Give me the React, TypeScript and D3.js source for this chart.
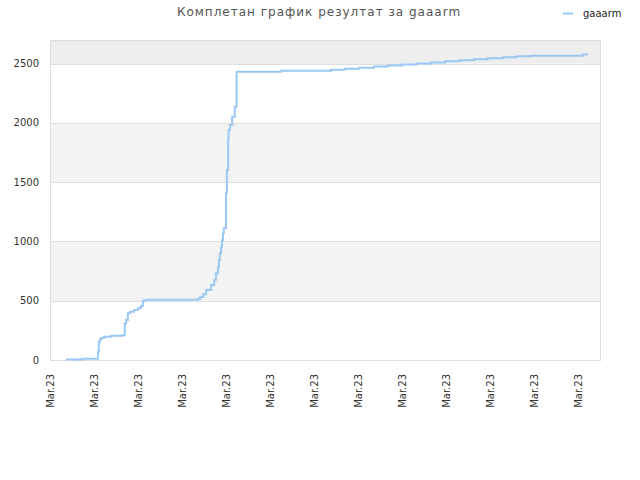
import * as d3 from "d3";
import { useEffect, useRef } from "react";

// x position in tick units (one tick label per unit), cumulative score
const steps = [
  0.36, 0.73, 1.09, 1.11, 1.14, 1.16, 1.23, 1.39, 1.66, 1.7, 1.73, 1.77, 1.82,
  1.91, 2.0, 2.07, 2.11, 2.18, 3.36, 3.41, 3.48, 3.55, 3.66, 3.73, 3.77, 3.82,
  3.84, 3.86, 3.89, 3.91, 3.93, 3.95, 4.0, 4.02, 4.05, 4.06, 4.09, 4.14, 4.2,
  4.24, 4.27, 5.25, 6.39, 6.7, 7.02, 7.36, 7.68, 8.0, 8.34, 8.66, 8.98, 9.32,
  9.64, 9.95, 10.3, 10.61, 10.93, 12.11, 12.23,
];
const scores = [
  5, 11, 70, 154, 177, 186, 197, 205, 211, 310, 337, 394, 408, 422, 436, 456,
  500, 509, 515, 529, 554, 591, 633, 675, 731, 787, 844, 900, 956, 1012, 1069,
  1111, 1409, 1603, 1873, 1941, 1983, 2053, 2137, 2433, 2433, 2440, 2448, 2457,
  2466, 2476, 2485, 2494, 2502, 2511, 2520, 2529, 2537, 2546, 2554, 2562, 2568,
  2577, 2577,
];
const xTicks = [0, 1, 2, 3, 4, 5, 6, 7, 8, 9, 10, 11, 12];
const yTicks = [0, 500, 1000, 1500, 2000, 2500];
const tickLabel = "Mar.23";
const seriesName = "gaaarm";
const title = "Комплетан график резултат за gaaarm";

const App = () => {
  const svgRef = useRef<SVGSVGElement>(null);

  useEffect(() => {
    const svg = d3.select(svgRef.current);
    svg.selectAll("*").remove();

    const left = 50;
    const right = 600;
    const top = 40;
    const bottom = 360;

    const x = d3.scaleLinear().domain([0, 12.5]).range([left, right]);
    const y = d3.scaleLinear().domain([0, 2700]).range([bottom, top]);

    // alternating bands
    const bands = [0, 500, 1000, 1500, 2000, 2500];
    bands.forEach((b, i) => {
      const hi = Math.min(b + 500, 2700);
      svg
        .append("rect")
        .attr("x", left)
        .attr("y", y(hi))
        .attr("width", right - left)
        .attr("height", y(b) - y(hi))
        .attr("fill", b === 2500 ? "#eeeeee" : i % 2 ? "#f3f3f3" : "#ffffff");
    });

    yTicks.forEach((t) => {
      svg
        .append("line")
        .attr("x1", left)
        .attr("x2", right)
        .attr("y1", Math.round(y(t)) + 0.5)
        .attr("y2", Math.round(y(t)) + 0.5)
        .attr("stroke", "#dddddd");
      svg
        .append("text")
        .attr("x", 39)
        .attr("y", y(t))
        .attr("dy", "0.35em")
        .attr("text-anchor", "end")
        .attr("font-family", "DejaVu Sans")
        .attr("font-size", 10)
        .attr("fill", "#333")
        .text(t);
    });

    svg
      .append("rect")
      .attr("x", left + 0.5)
      .attr("y", top + 0.5)
      .attr("width", right - left)
      .attr("height", bottom - top)
      .attr("fill", "none")
      .attr("stroke", "#dddddd");

    xTicks.forEach((t) => {
      svg
        .append("text")
        .attr("transform", `translate(${x(t) + 4},374) rotate(-90)`)
        .attr("text-anchor", "end")
        .attr("font-family", "DejaVu Sans")
        .attr("font-size", 10)
        .attr("fill", "#333")
        .text(tickLabel);
    });

    const pts = steps.map((s, i) => [s, scores[i]] as [number, number]);
    svg
      .append("path")
      .datum(pts)
      .attr("fill", "none")
      .attr("stroke", "#99c8f5")
      .attr("stroke-width", 2)
      .attr(
        "d",
        d3
          .line<[number, number]>()
          .x((d) => x(d[0]))
          .y((d) => y(d[1]))
          .curve(d3.curveStepAfter)
      );

    svg
      .append("text")
      .attr("x", 319)
      .attr("y", 16)
      .attr("text-anchor", "middle")
      .attr("font-family", "DejaVu Sans")
      .attr("font-size", 12)
      .attr("letter-spacing", 1.0)
      .attr("fill", "#555")
      .text(title);

    svg
      .append("line")
      .attr("x1", 563)
      .attr("x2", 573)
      .attr("y1", 13.5)
      .attr("y2", 13.5)
      .attr("stroke", "#99c8f5")
      .attr("stroke-width", 2);
    svg
      .append("text")
      .attr("x", 583)
      .attr("y", 16.5)
      .attr("font-family", "DejaVu Sans")
      .attr("font-size", 10)
      .attr("fill", "#222")
      .text(seriesName);
  }, []);

  return (
    <svg
      ref={svgRef}
      width={640}
      height={480}
      style={{ position: "absolute", left: 0, top: 0, background: "#fff" }}
    />
  );
};

export default App;
